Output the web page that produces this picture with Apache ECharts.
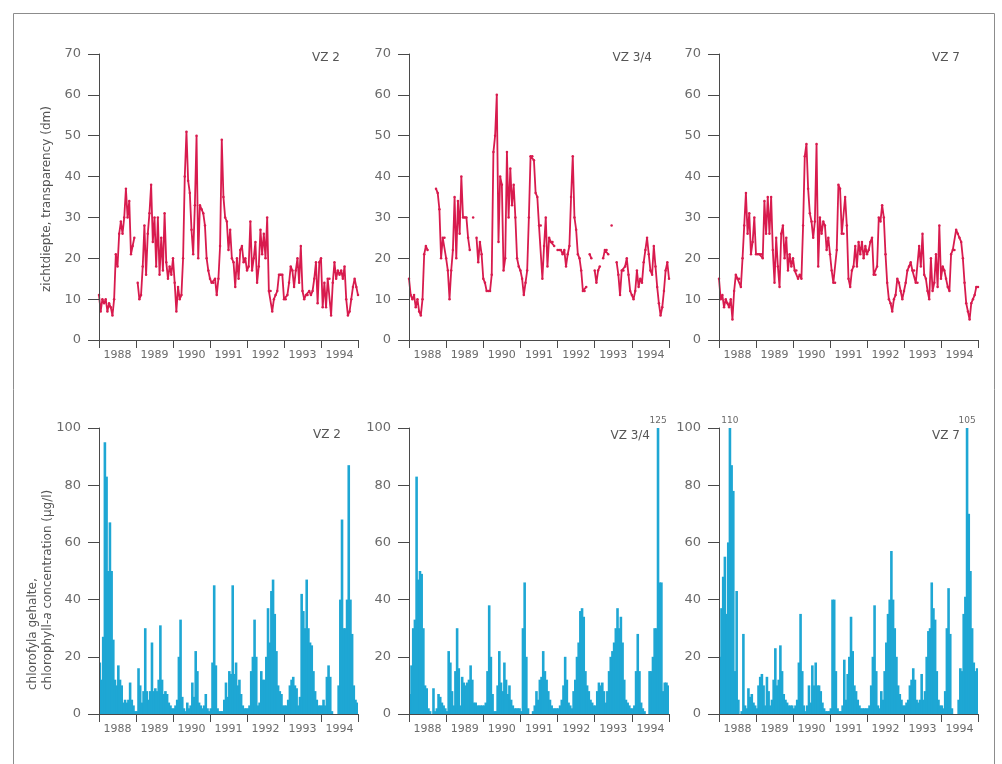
<!DOCTYPE html>
<html><head><meta charset="utf-8">
<script src="https://cdn.jsdelivr.net/npm/echarts@6/dist/echarts.min.js"></script>
<style>html,body{margin:0;padding:0;background:#fff}#c{width:1002px;height:764px}</style>
</head><body><div id="c"></div><script>
// ---- data ----
const years = ['1988','1989','1990','1991','1992','1993','1994'];
const stepsPerYear = 22; // samples per year
const stationNames = ['VZ 2','VZ 3/4','VZ 7'];

// transparency (dm), 22 samples per year 1988..1994 + end point
const transVZ2 = [
 11,7,10,9,10,7,9,8,6,10,21,18,26,29,26,30,37,30,34,21,23,25,
 null,14,10,11,18,28,16,26,31,38,24,30,18,30,16,25,17,31,19,15,18,16,
 20,14,7,13,10,11,20,40,51,39,36,27,21,33,50,20,33,32,31,28,20,17,
 15,14,14,15,11,15,23,49,35,30,29,22,27,20,19,13,20,15,22,23,19,20,
 17,18,29,17,20,24,14,18,27,21,26,20,30,12,12,7,10,11,12,16,16,16,
 10,10,11,14,18,17,13,17,20,14,23,12,10,11,11,12,11,12,15,19,9,19,
 20,8,14,8,15,15,6,14,19,15,17,16,17,15,18,10,6,7,10,13,15,13,
 11];
const transVZ34 = [
 15,11,10,11,8,10,7,6,10,21,23,22,null,null,null,null,37,36,32,20,25,25,
 20,17,10,17,22,35,20,34,26,40,30,30,30,25,22,null,30,null,25,19,24,21,
 15,14,12,12,12,16,46,50,60,24,40,38,17,20,46,30,42,33,38,30,20,18,
 17,15,11,14,17,30,45,45,44,36,35,28,28,15,23,30,18,25,24,24,23,null,
 22,22,22,21,22,18,21,23,35,45,30,27,21,20,17,12,12,13,null,21,20,null,
 17,14,17,18,null,20,22,22,21,null,28,null,null,19,16,11,17,17,18,20,16,12,
 11,10,12,17,13,15,14,19,22,25,21,17,16,23,18,13,9,6,8,12,17,19,
 15];
const transVZ7 = [
 15,10,11,8,10,9,8,10,5,12,16,15,15,13,20,28,36,26,31,21,24,30,
 21,21,21,21,20,34,26,35,26,35,22,14,25,18,13,26,28,20,25,17,21,18,
 20,17,17,15,16,15,28,45,48,37,31,29,25,29,48,18,30,26,29,28,22,25,
 21,17,14,14,22,38,37,26,26,35,28,15,13,17,18,23,18,24,21,24,20,23,
 21,22,24,25,16,16,18,30,29,33,30,21,14,10,9,7,10,11,15,14,12,10,
 12,14,17,18,19,17,17,14,14,23,18,26,16,15,12,10,20,12,14,21,13,28,
 15,18,17,15,13,12,21,22,22,27,26,25,24,20,14,9,7,5,9,10,11,13,
 13];

// chlorophyll-a (ug/l), 22 samples per year 1988..1994
const chlVZ2 = [
 18,12,27,95,83,50,67,50,26,12,10,17,12,10,4,5,4,5,11,5,3,1,
 1,16,10,4,8,30,8,5,8,25,8,9,8,12,31,12,7,8,7,4,3,2,
 2,3,5,20,33,6,2,1,4,2,3,11,6,22,15,4,3,2,3,7,2,1,
 2,18,45,17,2,1,1,1,5,11,6,15,14,45,14,18,10,12,7,3,2,2,
 2,3,15,20,33,20,3,4,15,12,12,20,37,25,43,47,35,22,10,8,7,3,
 3,3,5,10,12,13,10,9,3,6,42,36,30,47,30,25,24,15,8,5,3,3,
 3,5,3,13,17,13,1,0,0,0,10,40,68,30,30,40,87,40,28,10,5,4];
const chlVZ34 = [
 7,17,30,33,83,47,50,49,30,10,9,2,1,0,9,1,2,7,6,4,3,2,
 1,22,18,8,3,15,30,16,3,13,11,10,11,12,17,12,4,4,3,3,3,3,
 3,4,15,38,20,7,1,1,10,22,11,8,18,12,7,10,5,3,2,2,2,2,
 1,30,46,20,2,0,0,1,3,8,5,12,13,22,15,12,8,5,3,2,2,2,
 2,3,5,10,20,12,4,3,2,8,12,20,25,36,37,34,15,10,8,5,4,3,
 3,8,11,10,11,8,4,8,15,20,22,25,30,37,30,34,25,12,5,4,3,2,
 2,3,15,28,15,4,2,1,0,0,15,15,20,30,30,125,46,46,8,11,11,10];
const chlVZ7 = [
 20,37,48,55,35,60,110,87,78,15,43,5,0,1,28,3,2,9,6,7,4,3,
 2,10,13,14,10,3,13,8,3,5,12,23,10,12,24,15,7,5,4,3,3,3,
 2,3,5,18,35,15,3,1,3,10,4,17,10,18,10,10,8,4,2,1,1,1,
 2,40,40,15,2,1,1,3,19,5,14,20,34,22,10,8,5,3,2,2,2,2,
 2,3,10,20,38,15,3,2,8,5,15,25,35,40,57,40,30,20,10,7,5,3,
 3,4,5,10,12,16,12,5,4,5,14,5,8,20,29,30,46,37,33,15,5,3,
 3,2,8,30,44,28,2,0,0,0,5,16,15,35,41,105,70,50,30,18,15,16];

const transTicks = {max: 70, interval: 10};
const chlTicks = {max: 100, interval: 20};

// ---- layout / style ----
const FONT = 'DejaVu Sans';
const AXIS = '#4a4a4a', TXT = '#6a6a6a';
const RED = '#d81b4e', BLUE = '#1ea7d4';
const grids = [
 {left: 99, top: 54, width: 259, height: 286},
 {left: 409, top: 54, width: 260, height: 286},
 {left: 719, top: 54, width: 259, height: 286},
 {left: 99, top: 428, width: 259, height: 286},
 {left: 409, top: 428, width: 260, height: 286},
 {left: 719, top: 428, width: 259, height: 286}
];
const lineSets = [transVZ2, transVZ34, transVZ7];
const barSets = [chlVZ2, chlVZ34, chlVZ7];

const xAxis = [], yAxis = [], series = [];
grids.forEach((g, i) => {
  const isTop = i < 3;
  xAxis.push({
    gridIndex: i, type: 'category', data: years, boundaryGap: true,
    axisLine: {show: true, lineStyle: {color: AXIS, width: 1}},
    axisTick: {show: true, length: 8, lineStyle: {color: AXIS}},
    axisLabel: {fontFamily: FONT, fontSize: 11, color: TXT, margin: 10},
    splitLine: {show: false}, z: 5
  });
  const n = isTop ? lineSets[i].length : barSets[i-3].length;
  xAxis.push({
    gridIndex: i, type: 'category', show: false,
    boundaryGap: !isTop,
    data: Array.from({length: n}, (_, k) => k)
  });
  const t = isTop ? transTicks : chlTicks;
  yAxis.push({
    gridIndex: i, type: 'value', min: 0, max: t.max, interval: t.interval,
    axisLine: {show: true, lineStyle: {color: AXIS, width: 1}},
    axisTick: {show: true, length: 11, lineStyle: {color: AXIS}},
    axisLabel: {fontFamily: FONT, fontSize: 13, color: TXT, margin: 18},
    splitLine: {show: false}, z: 5
  });
  if (isTop) {
    series.push({
      type: 'line', xAxisIndex: 2*i+1, yAxisIndex: i, data: lineSets[i],
      connectNulls: false, showSymbol: true, showAllSymbol: true,
      symbol: 'circle', symbolSize: 2.5,
      itemStyle: {color: RED}, lineStyle: {color: RED, width: 1.8},
      animation: false, silent: true
    });
  } else {
    const d = barSets[i-3];
    const over = [];
    d.forEach((v, k) => { if (v > t.max) over.push({coord: [k, t.max], value: v}); });
    series.push({
      type: 'bar', xAxisIndex: 2*i+1, yAxisIndex: i, data: d,
      barWidth: 2.6, barGap: '-100%', clip: true,
      itemStyle: {color: BLUE},
      animation: false, silent: true,
      markPoint: {
        symbol: 'circle', symbolSize: 0, silent: true, data: over,
        label: {show: true, position: 'top', distance: 3, formatter: p => p.value,
                fontFamily: FONT, fontSize: 9, color: TXT}
      }
    });
  }
});

const graphic = [
  {type: 'rect', silent: true, z: -10, shape: {x: 13.5, y: 13.5, width: 981, height: 800},
   style: {fill: 'none', stroke: '#8c8c8c', lineWidth: 1}}
];
const labelPos = [
  {x: 340, y: 58}, {x: 652, y: 58}, {x: 960, y: 58},
  {x: 341, y: 435}, {x: 650, y: 436}, {x: 960, y: 436}
];
labelPos.forEach((p, i) => {
  graphic.push({type: 'text', x: p.x, y: p.y, silent: true,
    style: {text: stationNames[i % 3], textAlign: 'right', textVerticalAlign: 'middle',
            fontFamily: FONT, fontSize: 12, fill: '#555'}});
});
graphic.push({type: 'text', x: 47, y: 292, rotation: Math.PI/2, silent: true,
  style: {text: 'zichtdiepte, transparency (dm)', textAlign: 'left', textVerticalAlign: 'middle',
          fontFamily: FONT, fontSize: 12, fill: '#555'}});
graphic.push({type: 'text', x: 33, y: 690, rotation: Math.PI/2, silent: true,
  style: {text: 'chlorofyla gehalte,', textAlign: 'left', textVerticalAlign: 'middle',
          fontFamily: FONT, fontSize: 12, fill: '#555'}});
graphic.push({type: 'text', x: 48, y: 690, rotation: Math.PI/2, silent: true,
  style: {text: '{n|chlorophyll-}{i|a}{n| concentration (\u00b5g/l)}', textAlign: 'left', textVerticalAlign: 'middle',
          rich: {n: {fontFamily: FONT, fontSize: 12, fill: '#555', color: '#555'},
                 i: {fontFamily: FONT, fontSize: 12, fontStyle: 'italic', fill: '#555', color: '#555'}}}});

const chart = echarts.init(document.getElementById('c'), null, {renderer: 'canvas'});
chart.setOption({
  backgroundColor: '#fff', animation: false,
  grid: grids, xAxis: xAxis, yAxis: yAxis, series: series, graphic: graphic
});
</script></body></html>
